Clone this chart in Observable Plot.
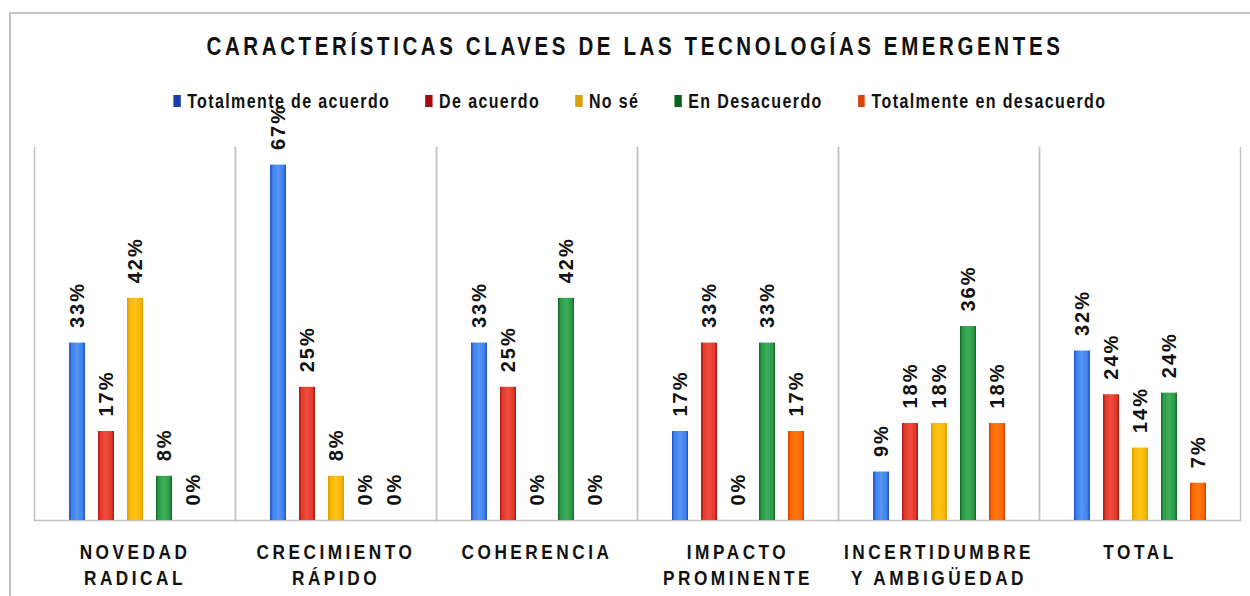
<!DOCTYPE html>
<html>
<head>
<meta charset="utf-8">
<script src="https://cdn.jsdelivr.net/npm/d3@7"></script>
<script src="https://cdn.jsdelivr.net/npm/@observablehq/plot@0.6"></script>
<style>
  html, body { margin: 0; padding: 0; background: #fff; }
  #wrap { position: relative; width: 1250px; height: 596px; overflow: hidden; background: #fff; }
  #border { position: absolute; left: 9px; top: 12px; width: 1250px; height: 600px;
            border-top: 2px solid #c4c4c4; border-left: 2px solid #c4c4c4; box-sizing: border-box; }
  #title { position: absolute; left: 10px; width: 1250px; top: 34px; text-align: center;
           font-family: "Liberation Sans", Arial, sans-serif;
           font-weight: bold; font-size: 25px; line-height: 25px; letter-spacing: 4.4px; color: #111;
           transform: scaleX(0.82); transform-origin: 50% 0; white-space: nowrap; }
  #legend { position: absolute; left: 15px; width: 1250px; top: 91px; display: flex; justify-content: center;
            font-family: "Liberation Sans", Arial, sans-serif; font-weight: bold;
            font-size: 19.5px; line-height: 20px; color: #111; letter-spacing: 1.7px;
            transform: scaleX(0.82); transform-origin: 50% 0; white-space: nowrap; }
  #legend .item { display: flex; align-items: center; margin: 0 21.5px; }
  #legend .sw { width: 8.5px; height: 12px; margin-right: 8px; }
  #chart { position: absolute; left: 0; top: 130px; }
  g[aria-description="values"] text { letter-spacing: 2px; }
  g[aria-description="cats"] text, g[aria-description="cats"] tspan { letter-spacing: 4.3px; }
</style>
</head>
<body>
<div id="wrap">
  <div id="border"></div>
  <div id="title"></div>
  <div id="legend"></div>
  <div id="chart"></div>
</div>
<script>
// ---- data ----
const titleText = "CARACTERÍSTICAS CLAVES DE LAS TECNOLOGÍAS EMERGENTES";
const categories = ["NOVEDAD\nRADICAL", "CRECIMIENTO\nRÁPIDO", "COHERENCIA", "IMPACTO\nPROMINENTE", "INCERTIDUMBRE\nY AMBIGÜEDAD", "TOTAL"];
const series = ["Totalmente de acuerdo", "De acuerdo", "No sé", "En Desacuerdo", "Totalmente en desacuerdo"];
const totalmenteDeAcuerdo    = [33.3, 66.7, 33.3, 16.7,  9.1, 31.8];
const deAcuerdo              = [16.7, 25.0, 25.0, 33.3, 18.2, 23.6];
const noSe                   = [41.7,  8.3,  0.0,  0.0, 18.2, 13.6];
const enDesacuerdo           = [ 8.3,  0.0, 41.7, 33.3, 36.4, 23.9];
const totalmenteEnDesacuerdo = [ 0.0,  0.0,  0.0, 16.7, 18.2,  7.0];

// ---- styles ----
const barColors = [
  {dark: "#1d4fbf", base: "#3d80ea", light: "#5896f6"},
  {dark: "#a8190f", base: "#e2382b", light: "#f04e40"},
  {dark: "#dc9c00", base: "#f7b700", light: "#fdc41c"},
  {dark: "#126627", base: "#2c9b48", light: "#3eae5a"},
  {dark: "#c94300", base: "#fd6500", light: "#ff7a16"}
];
const legendColors = ["#1c3da6", "#a10b0b", "#d9a011", "#0b6222", "#d9410f"];
const narrow = 0.82;

const seriesValues = [totalmenteDeAcuerdo, deAcuerdo, noSe, enDesacuerdo, totalmenteEnDesacuerdo];
const rows = categories.flatMap((c, i) => series.map((s, j) => ({category: c, series: s, value: seriesValues[j][i]})));

document.getElementById("title").textContent = titleText;
const legend = d3.select("#legend");
series.forEach((s, i) => {
  const it = legend.append("div").attr("class", "item");
  it.append("div").attr("class", "sw").style("background", legendColors[i]);
  it.append("span").text(s);
});

const svg = Plot.plot({
  width: 1250,
  height: 466,
  marginLeft: 31,
  marginRight: 8,
  marginTop: 17,
  marginBottom: 76,
  style: {overflow: "visible", background: "transparent", fontFamily: "'Liberation Sans', Arial, sans-serif", color: "#111"},
  fx: {domain: categories, padding: 0, axis: null, label: null},
  x: {domain: series, paddingInner: 0.454, paddingOuter: 1.17, axis: null, label: null},
  y: {domain: [0, 70], axis: null, label: null},
  color: {type: "ordinal", domain: series, range: series.map((s, i) => `url(#grad${i})`)},
  marks: [
    Plot.frame({anchor: "left", stroke: "#c2c2c2", strokeWidth: 1.5}),
    Plot.frame({anchor: "right", stroke: "#c2c2c2", strokeWidth: 1.5}),
    Plot.ruleY([0], {stroke: "#c2c2c2", strokeWidth: 1.5}),
    Plot.barY(rows, {fx: "category", x: "series", y: "value", fill: "series"}),
    Plot.text(rows, {
      fx: "category", x: "series", y: "value",
      text: d => `${Math.round(d.value)}%`,
      rotate: -90, textAnchor: "start", dy: -15,
      fontSize: 20, fontWeight: "bold", fill: "#111",
      ariaDescription: "values"
    }),
    Plot.text(categories, {
      fx: d => d, text: d => d,
      frameAnchor: "bottom", lineAnchor: "top", dy: 20,
      fontSize: 21, fontWeight: "bold", lineHeight: 1.24, fill: "#111",
      ariaDescription: "cats"
    })
  ]
});

const defs = d3.select(svg).insert("defs", ":first-child");
barColors.forEach((c, i) => {
  const g = defs.append("linearGradient").attr("id", `grad${i}`)
    .attr("x1", 0).attr("x2", 1).attr("y1", 0).attr("y2", 0);
  [[0, c.dark], [0.16, c.base], [0.5, c.light], [0.84, c.base], [1, c.dark]].forEach(([o, col]) =>
    g.append("stop").attr("offset", o).attr("stop-color", col));
});

// narrow (condensed) look for the category labels
d3.select(svg).selectAll('g[aria-description="cats"] text').each(function () {
  const t = d3.select(this);
  const tr = t.attr("transform");
  if (tr) {
    t.attr("transform", `${tr} scale(${narrow},1)`);
  } else {
    const x = +t.attr("x") || 0, y = +t.attr("y") || 0;
    t.attr("x", null).attr("y", null).attr("transform", `translate(${x},${y}) scale(${narrow},1)`);
  }
});

document.getElementById("chart").appendChild(svg);
</script>
</body>
</html>
